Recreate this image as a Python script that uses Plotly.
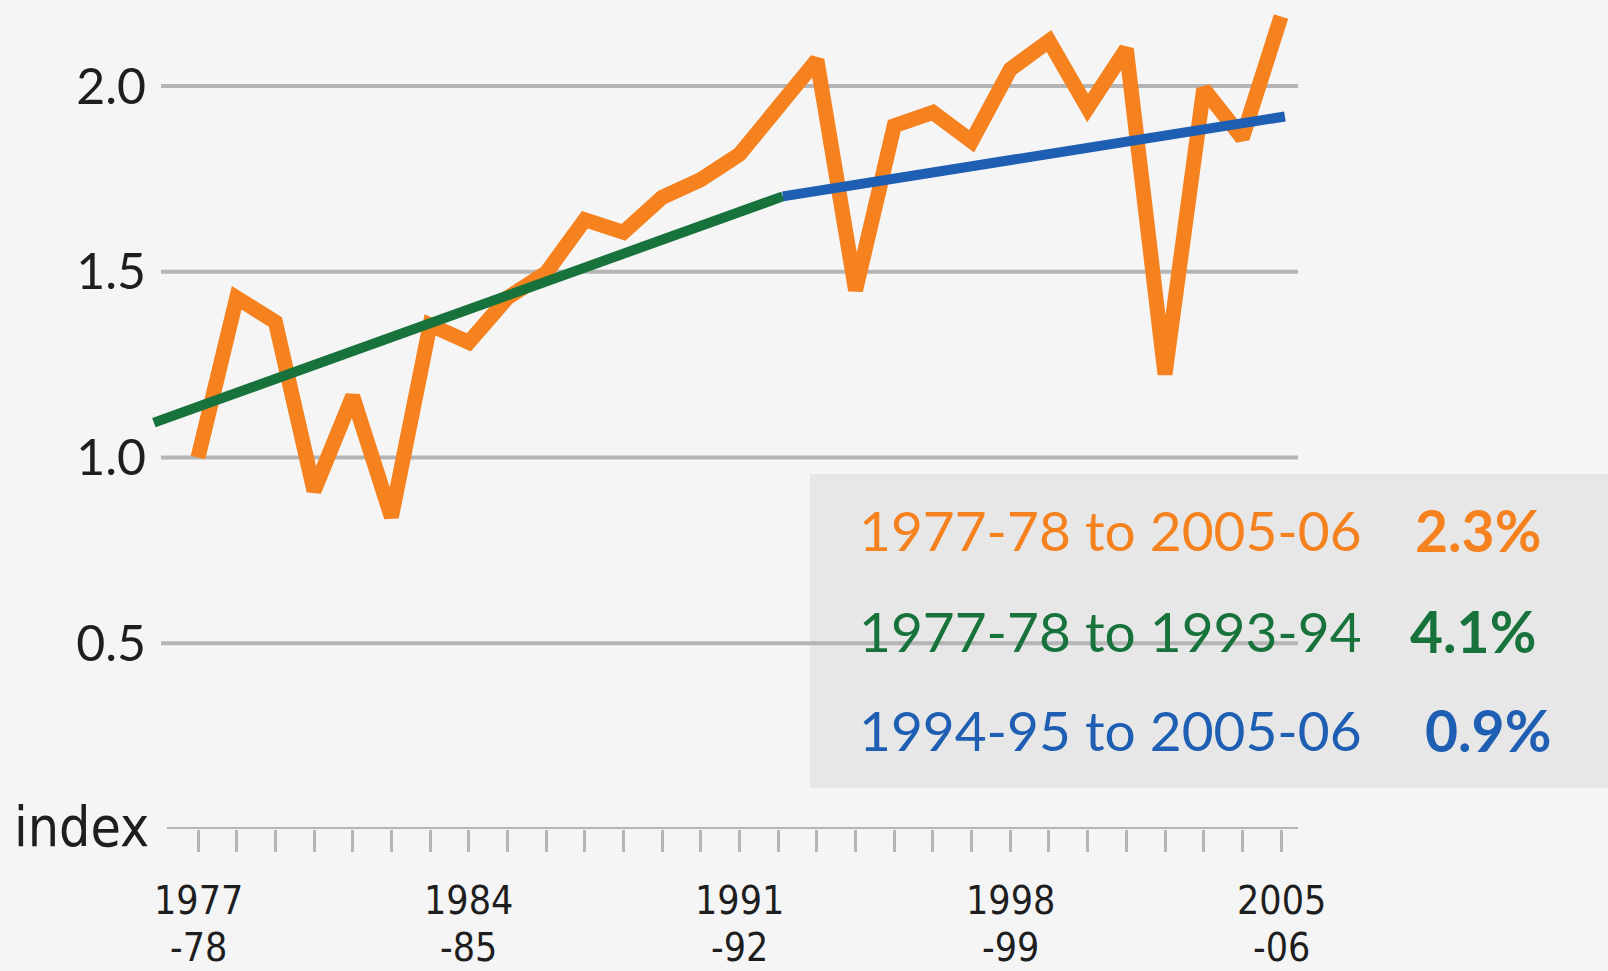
import plotly.graph_objects as go

# ---- data ----
years = list(range(1977, 2006))
index_values = [1.00, 1.43, 1.365, 0.91, 1.165, 0.84, 1.357, 1.31, 1.43, 1.497,
                1.64, 1.606, 1.70, 1.748, 1.816, 1.94, 2.07, 1.45, 1.893, 1.929,
                1.851, 2.045, 2.121, 1.941, 2.10, 1.224, 1.992, 1.86, 2.187]

trend1_x = [1975.86, 1992.12]
trend1_y = [1.094, 1.703]
trend2_x = [1992.12, 2005.1]
trend2_y = [1.703, 1.918]

y_ticks = [0.5, 1.0, 1.5, 2.0]
y_tick_labels = ["0.5", "1.0", "1.5", "2.0"]

x_label_years = [1977, 1984, 1991, 1998, 2005]
x_label_top = ["1977", "1984", "1991", "1998", "2005"]
x_label_bottom = ["-78", "-85", "-92", "-99", "-06"]

legend_periods = ["1977-78 to 2005-06", "1977-78 to 1993-94", "1994-95 to 2005-06"]
legend_rates = ["2.3%", "4.1%", "0.9%"]

# ---- styles ----
ORANGE = "#f5821f"
GREEN = "#17733b"
BLUE = "#1f5fb3"
GRID = "#b5b5b5"
BG = "#f5f5f5"
BOX = "#e7e7e7"
TEXT = "#1e1e1e"
MAIN_FONT = "Lato, 'Open Sans', sans-serif"
NARROW_FONT = "'DejaVu Sans Condensed', 'Liberation Sans Narrow', Roboto, sans-serif"
legend_colors = [ORANGE, GREEN, BLUE]

W, H = 1608, 971
ML, MR, MT, MB = 150, 308, 0, 142
PW = W - ML - MR
PH = H - MT - MB
PX_PER_YEAR = 38.68
X0 = 1977 - (198 - ML) / PX_PER_YEAR
X1 = X0 + PW / PX_PER_YEAR
Y_PER_UNIT = 371.5
YMAX = PH / Y_PER_UNIT


def px_to_paper_x(p):
    return (p - ML) / PW


def px_to_paper_y(p):
    return (H - MB - p) / PH


fig = go.Figure()

fig.add_trace(go.Scatter(x=years, y=index_values, mode="lines",
                         line=dict(color=ORANGE, width=15), hoverinfo="skip"))
fig.add_trace(go.Scatter(x=trend1_x, y=trend1_y, mode="lines",
                         line=dict(color=GREEN, width=10), hoverinfo="skip"))
fig.add_trace(go.Scatter(x=trend2_x, y=trend2_y, mode="lines",
                         line=dict(color=BLUE, width=10), hoverinfo="skip"))

shapes = []
grid_x0 = 1977 - (198 - 161) / PX_PER_YEAR
grid_x1 = 2005 + (1298 - 1281) / PX_PER_YEAR
for v in y_ticks:
    shapes.append(dict(type="line", xref="x", yref="y", x0=grid_x0, x1=grid_x1,
                       y0=v, y1=v, line=dict(color=GRID, width=4), layer="below"))
# x axis baseline
shapes.append(dict(type="line", xref="x", yref="y",
                   x0=1977 - (198 - 167) / PX_PER_YEAR, x1=grid_x1, y0=0, y1=0,
                   line=dict(color=GRID, width=4), layer="below"))
# legend box
shapes.append(dict(type="rect", xref="paper", yref="paper",
                   x0=px_to_paper_x(810), x1=px_to_paper_x(1608),
                   y0=px_to_paper_y(788), y1=px_to_paper_y(474),
                   fillcolor=BOX, line=dict(width=0), layer="below"))

annotations = []
for yr, top, bot in zip(x_label_years, x_label_top, x_label_bottom):
    annotations.append(dict(x=yr, y=0, xref="x", yref="y", text=top, showarrow=False,
                            xanchor="center", yanchor="middle", yshift=-71,
                            font=dict(family=NARROW_FONT, size=39, color=TEXT)))
    annotations.append(dict(x=yr, y=0, xref="x", yref="y", text=bot, showarrow=False,
                            xanchor="center", yanchor="middle", yshift=-118,
                            font=dict(family=NARROW_FONT, size=39, color=TEXT)))

annotations.append(dict(x=px_to_paper_x(12), y=0, xref="paper", yref="y", text="index",
                        showarrow=False, xanchor="left", yanchor="middle", yshift=2,
                        font=dict(family=NARROW_FONT, size=55, color=TEXT)))

row_y = [530, 631, 730]
rate_x = [1413, 1408, 1423]
for per, rate, col, ry, rx in zip(legend_periods, legend_rates, legend_colors, row_y, rate_x):
    annotations.append(dict(x=px_to_paper_x(857), y=px_to_paper_y(ry), xref="paper", yref="paper",
                            text=per, showarrow=False, xanchor="left", yanchor="middle",
                            font=dict(family=MAIN_FONT, size=55, color=col)))
    annotations.append(dict(x=px_to_paper_x(rx), y=px_to_paper_y(ry), xref="paper", yref="paper",
                            text="<b>" + rate + "</b>", showarrow=False, xanchor="left",
                            yanchor="middle",
                            font=dict(family=MAIN_FONT, size=57, color=col)))

fig.update_layout(
    width=W, height=H,
    margin=dict(l=ML, r=MR, t=MT, b=MB, pad=0),
    paper_bgcolor=BG, plot_bgcolor=BG,
    showlegend=False,
    shapes=shapes,
    annotations=annotations,
    xaxis=dict(range=[X0, X1], showgrid=False, zeroline=False, showline=False,
               tickmode="array", tickvals=years, ticktext=[""] * len(years),
               ticks="outside", ticklen=22, tickwidth=2.5, tickcolor=GRID),
    yaxis=dict(range=[0, YMAX], showgrid=False, zeroline=False, showline=False,
               tickmode="array", tickvals=y_ticks, ticktext=y_tick_labels,
               ticks="", ticklabelstandoff=3,
               tickfont=dict(family=MAIN_FONT, size=50, color=TEXT)),
)

fig.write_html("out.html", config={"displayModeBar": False},
               post_script="document.body.style.margin='0';document.body.style.background='%s';" % BG)
